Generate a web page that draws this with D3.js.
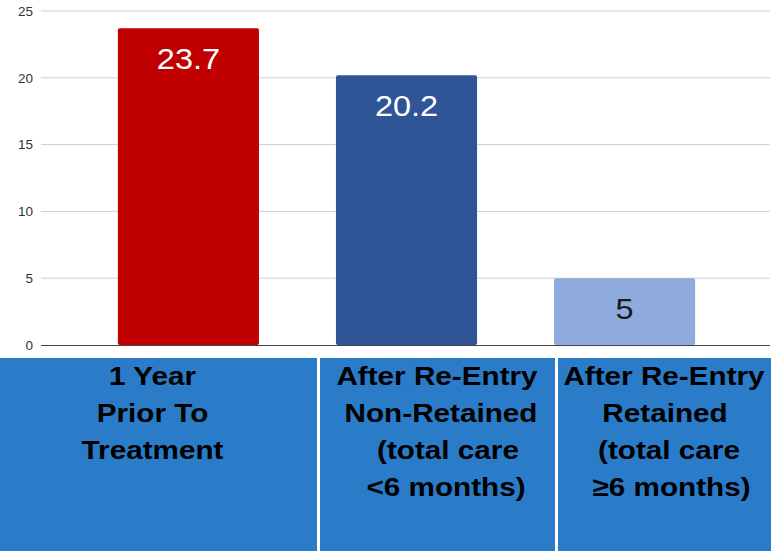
<!DOCTYPE html>
<html><head><meta charset="utf-8">
<script src="https://cdn.jsdelivr.net/npm/d3@7"></script>
<style>body{margin:0;background:#fff}svg{display:block}</style>
</head><body>
<script>
const categories = ["1 Year Prior To Treatment","After Re-Entry Non-Retained","After Re-Entry Retained"];
const values = [23.7, 20.2, 5];
const barColors = ["#c00000","#2f5597","#8faadc"];
const labelColors = ["#ffffff","#ffffff","#1a1a1a"];
const yTicks = [0,5,10,15,20,25];
const boxLines = [
  ["1 Year","Prior To","Treatment"],
  ["After Re-Entry","Non-Retained","(total care","<6 months)"],
  ["After Re-Entry","Retained","(total care","≥6 months)"]
];

const W = 774, H = 551;
const FONT = "Liberation Sans, Arial, sans-serif";
const SX = 1.12;
const svg = d3.select("body").append("svg").attr("width",W).attr("height",H);

const y = d3.scaleLinear().domain([0,25]).range([345,11]);
const x = d3.scaleBand().domain(categories).range([79.5,733.5]).paddingInner(0.353).paddingOuter(0.176);

// grid
svg.append("g").selectAll("line").data(yTicks.filter(d=>d>0)).join("line")
  .attr("x1",41).attr("x2",770).attr("y1",d=>y(d)).attr("y2",d=>y(d))
  .attr("stroke","#d0d0d0").attr("stroke-width",1);

// axis labels
const yAxis = d3.axisLeft(y).tickValues(yTicks).tickSize(0).tickPadding(8);
const ga = svg.append("g").attr("transform","translate(41,0)").call(yAxis);
ga.select(".domain").remove();
ga.selectAll("text").attr("font-family",FONT).attr("font-size",13.5).attr("fill","#333");

// bars
svg.append("g").selectAll("rect").data(values).join("rect")
  .attr("x",(d,i)=>x(categories[i])).attr("width",x.bandwidth())
  .attr("y",d=>y(d)).attr("height",d=>y(0)-y(d))
  .attr("rx",2).attr("fill",(d,i)=>barColors[i]);

// baseline
svg.append("line").attr("x1",41).attr("x2",770).attr("y1",y(0)+0.5).attr("y2",y(0)+0.5)
  .attr("stroke","#444").attr("stroke-width",1.2);

// value labels
svg.append("g").selectAll("text").data(values).join("text")
  .attr("transform",(d,i)=>`translate(${x(categories[i])+x.bandwidth()/2},${y(d)+41}) scale(${SX},1)`)
  .attr("text-anchor","middle")
  .attr("font-family",FONT).attr("font-size",29)
  .attr("fill",(d,i)=>labelColors[i])
  .text(d=>d);

// category panel
const boxes = [[0,317],[320,555],[558,771]];
const lineDx = [[0,0,0],[-0.5,3.5,10.5,8.5],[-0.5,0.5,4.5,7]];
const boxCx = [152.5,437.5,664.5];
const panel = svg.append("g");
panel.selectAll("rect").data(boxes).join("rect")
  .attr("x",d=>d[0]).attr("y",358).attr("width",d=>d[1]-d[0]).attr("height",H-358)
  .attr("fill","#2a7bc8");
boxLines.forEach((lines,i)=>{
  panel.append("g").selectAll("text").data(lines).join("text")
    .attr("transform",(d,j)=>`translate(${boxCx[i]+lineDx[i][j]},${385+j*37}) scale(1.12,1)`)
    .attr("text-anchor","middle")
    .attr("font-family",FONT).attr("font-weight","bold").attr("font-size",26.5)
    .attr("fill","#000")
    .text(d=>d);
});
</script>
</body></html>
